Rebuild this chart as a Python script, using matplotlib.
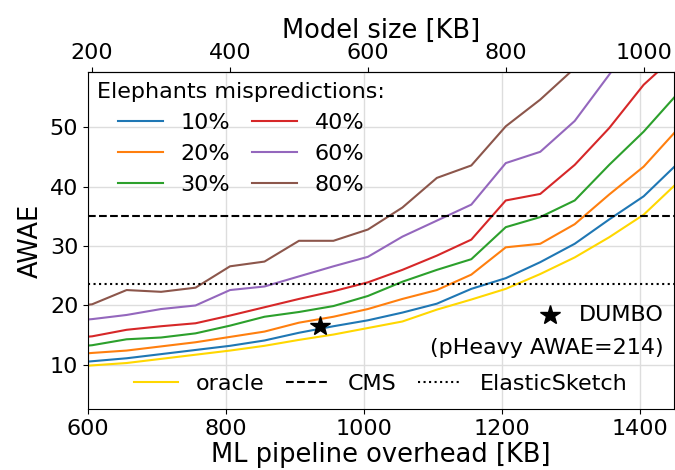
import matplotlib
matplotlib.use("Agg")
import matplotlib.pyplot as plt
import numpy as np

# ---- data ----
OFFSET = 406  # ML pipeline overhead = model size + OFFSET [KB]
model_size = [150, 200, 250, 300, 350, 400, 450, 500, 550, 600, 650, 700,
              750, 800, 850, 900, 950, 1000, 1050]
oracle = [9.5, 9.9, 10.3, 11.0, 11.7, 12.4, 13.2, 14.2, 15.1, 16.2, 17.3, 19.3,
          21.0, 22.8, 25.3, 28.1, 31.5, 35.3, 40.8]
mis_10 = [10.1, 10.6, 11.1, 11.8, 12.5, 13.2, 14.1, 15.4, 16.5, 17.5, 18.8, 20.3,
          22.8, 24.6, 27.3, 30.4, 34.5, 38.4, 44.0]
mis_20 = [11.5, 12.0, 12.4, 13.1, 13.8, 14.7, 15.6, 17.1, 18.1, 19.4, 21.1, 22.6,
          25.2, 29.8, 30.4, 33.7, 38.7, 43.4, 49.8]
mis_30 = [12.8, 13.3, 14.3, 14.6, 15.3, 16.6, 18.1, 18.9, 19.9, 21.6, 24.0, 26.0,
          27.8, 33.2, 34.9, 37.7, 43.7, 49.3, 55.8]
mis_40 = [14.3, 14.8, 15.9, 16.5, 17.0, 18.3, 19.7, 21.1, 22.4, 23.9, 26.0, 28.4,
          31.1, 37.7, 38.8, 43.7, 49.9, 57.2, 62.5]
mis_60 = [17.2, 17.7, 18.4, 19.4, 20.0, 22.6, 23.2, 24.9, 26.6, 28.2, 31.6, 34.3,
          37.0, 44.0, 45.9, 51.1, 58.9, 67.0, 75.0]
mis_80 = [19.6, 20.2, 22.6, 22.3, 23.0, 26.6, 27.4, 30.9, 30.9, 32.8, 36.5, 41.5,
          43.6, 50.2, 54.7, 60.0, 66.0, 72.0, 78.0]
mis_labels = ["10%", "20%", "30%", "40%", "60%", "80%"]
cms_awae = 35.0
elastic_awae = 23.7
dumbo_overhead = 937
dumbo_awae = 16.6
dumbo_label = "DUMBO"
dumbo_note = "(pHeavy AWAE=214)"
top_ticks = [200, 400, 600, 800, 1000]

plt.rcParams['font.family'] = ['DejaVu Sans']
fig = plt.figure(figsize=(6.75, 4.70), dpi=100)
ax = fig.add_axes([88 / 675, 1 - 409.3 / 470, (674 - 88) / 675, (409.3 - 72.3) / 470])

LABEL_FS = 18.5
FS = 16

x = np.array(model_size) + OFFSET
colors = ['tab:blue', 'tab:orange', 'tab:green', 'tab:red', 'tab:purple', 'tab:brown']
series = [mis_10, mis_20, mis_30, mis_40, mis_60, mis_80]
mis_handles = []
for s, c, lab in zip(series, colors, mis_labels):
    h, = ax.plot(x, s, color=c, lw=1.5, label=lab)
    mis_handles.append(h)

h_or, = ax.plot(x, oracle, color='#FFD700', lw=1.5, label='oracle')
h_cms = ax.axhline(cms_awae, color='black', ls='--', lw=1.5, label='CMS')
h_es = ax.axhline(elastic_awae, color='black', ls=':', lw=1.5, label='ElasticSketch')

ax.plot([dumbo_overhead], [dumbo_awae], marker='*', color='black', ms=15, ls='none')
ax.plot([0.788], [0.281], marker='*', color='black', ms=15, ls='none', transform=ax.transAxes)
ax.text(0.983, 0.281, dumbo_label, transform=ax.transAxes, ha='right', va='center', fontsize=FS)
ax.text(0.983, 0.183, dumbo_note, transform=ax.transAxes, ha='right', va='center', fontsize=FS)

ax.set_xlim(600, 1450)
ax.set_ylim(2.5, 59.3)
ax.set_xticks([600, 800, 1000, 1200, 1400])
ax.set_yticks([10, 20, 30, 40, 50])
ax.grid(True, color='#dddddd', lw=1)
ax.set_axisbelow(True)
ax.tick_params(labelsize=FS)
ax.set_xlabel("ML pipeline overhead [KB]", fontsize=LABEL_FS, labelpad=2)
ax.set_ylabel("AWAE", fontsize=LABEL_FS, labelpad=4)

sec = ax.secondary_xaxis('top', functions=(lambda v: v - OFFSET, lambda v: v + OFFSET))
sec.set_xticks(top_ticks)
sec.tick_params(labelsize=FS)
sec.set_xlabel("Model size [KB]", fontsize=LABEL_FS, labelpad=3)

leg1 = ax.legend(handles=mis_handles, ncol=2, loc='upper left', frameon=False,
                 title="Elephants mispredictions:", fontsize=FS, title_fontsize=FS,
                 borderaxespad=0.02, columnspacing=1.0)
ax.add_artist(leg1)
ax.legend(handles=[h_or, h_cms, h_es], ncol=3, loc='lower center', frameon=False,
          fontsize=FS, borderaxespad=0.3, columnspacing=0.95)

fig.savefig("out.png", dpi=100)
